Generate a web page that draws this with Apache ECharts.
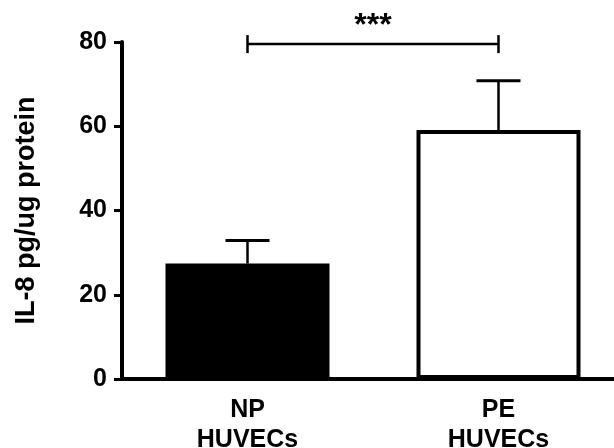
<!DOCTYPE html>
<html>
<head>
<meta charset="utf-8">
<script src="https://cdn.jsdelivr.net/npm/echarts@6/dist/echarts.min.js"></script>
<style>
html,body{margin:0;padding:0;background:#fff;}
#chart{width:614px;height:448px;}
</style>
</head>
<body>
<div id="chart"></div>
<script>
// data
var categories = ['NP\nHUVECs', 'PE\nHUVECs'];
var means = [27.4, 59.1];
var upperErr = [5.5, 11.7];
var sigPair = [0, 1];
var sigLevel = 79.5;
var sigText = '***';

var fontFam = '"Liberation Sans", Arial, sans-serif';
var myChart = echarts.init(document.getElementById('chart'));

var errData = [];
for (var i = 0; i < means.length; i++) {
    errData.push([i, means[i], means[i] + upperErr[i]]);
}

myChart.setOption({
    animation: false,
    grid: {left: 122, right: -10, top: 42, bottom: 69, containLabel: false, outerBoundsMode: 'none'},
    xAxis: {
        type: 'category',
        data: categories,
        axisLine: {lineStyle: {color: '#000', width: 4}},
        axisTick: {alignWithLabel: true, length: 7, lineStyle: {color: '#000', width: 3}},
        axisLabel: {
            color: '#000', fontFamily: fontFam, fontWeight: 'bold',
            fontSize: 25, lineHeight: 30, margin: 16
        }
    },
    yAxis: {
        type: 'value',
        min: 0, max: 80, interval: 20,
        name: 'IL-8 pg/ug protein',
        nameLocation: 'middle',
        nameGap: 82,
        nameTextStyle: {color: '#000', fontFamily: fontFam, fontWeight: 'bold', fontSize: 27},
        axisLine: {show: true, lineStyle: {color: '#000', width: 4}},
        axisTick: {show: true, length: 8, lineStyle: {color: '#000', width: 3}},
        axisLabel: {color: '#000', fontFamily: fontFam, fontWeight: 'bold', fontSize: 25, margin: 15},
        splitLine: {show: false}
    },
    series: [{
        type: 'bar',
        barWidth: 164,
        data: [
            {value: means[0], itemStyle: {color: '#000', borderColor: '#000', borderWidth: 4}},
            {value: means[1], itemStyle: {color: '#fff', borderColor: '#000', borderWidth: 4}}
        ],
        z: 2
    }, {
        type: 'custom',
        data: errData,
        z: 1,
        renderItem: function (params, api) {
            var base = api.coord([api.value(0), api.value(1)]);
            var top = api.coord([api.value(0), api.value(2)]);
            var half = 22;
            return {
                type: 'group',
                children: [{
                    type: 'line',
                    shape: {x1: base[0], y1: base[1], x2: top[0], y2: top[1]},
                    style: {stroke: '#000', lineWidth: 2.5}
                }, {
                    type: 'line',
                    shape: {x1: top[0] - half, y1: top[1], x2: top[0] + half, y2: top[1]},
                    style: {stroke: '#000', lineWidth: 3}
                }]
            };
        }
    }, {
        type: 'custom',
        data: [[sigPair[0], sigPair[1], sigLevel]],
        z: 3,
        renderItem: function (params, api) {
            var a = api.coord([api.value(0), api.value(2)]);
            var b = api.coord([api.value(1), api.value(2)]);
            var t = 9;
            return {
                type: 'group',
                children: [{
                    type: 'line',
                    shape: {x1: a[0], y1: a[1], x2: b[0], y2: b[1]},
                    style: {stroke: '#000', lineWidth: 2.5}
                }, {
                    type: 'line',
                    shape: {x1: a[0], y1: a[1] - t, x2: a[0], y2: a[1] + t},
                    style: {stroke: '#000', lineWidth: 2.5}
                }, {
                    type: 'line',
                    shape: {x1: b[0], y1: b[1] - t, x2: b[0], y2: b[1] + t},
                    style: {stroke: '#000', lineWidth: 2.5}
                }, {
                    type: 'text',
                    style: {
                        text: sigText,
                        x: (a[0] + b[0]) / 2, y: a[1] - 2,
                        align: 'center', verticalAlign: 'bottom',
                        fill: '#000', font: 'bold 32px ' + fontFam
                    }
                }]
            };
        }
    }]
});
</script>
</body>
</html>
